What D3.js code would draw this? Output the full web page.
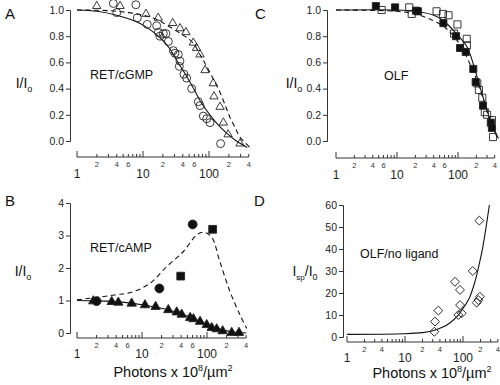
<!DOCTYPE html>
<html>
<head>
<meta charset="utf-8">
<script src="https://cdn.jsdelivr.net/npm/d3@7"></script>
<style>
  body { margin: 0; background: #fff; }
  svg { font-family: "Liberation Sans", Arial, sans-serif; }
  .tick text { fill: #222; }
</style>
</head>
<body>
<svg id="chart" width="500" height="385"></svg>
<script>
// ---- data: [photons x10^8/um^2, value] ----
// A: RET/cGMP
let aCircles = [[3.55,1.05],[4.0,0.98],[7.8,1.04],[8.2,0.94],[11.6,0.89],[16.1,0.88],[17.1,0.83],[18.1,0.80],
  [20.3,0.82],[22.3,0.82],[24.2,0.76],[28.8,0.69],[30.5,0.67],[34.3,0.66],[36.3,0.61],[35.5,0.57],[41.7,0.51],
  [45.9,0.48],[54.7,0.40],[68.9,0.30],[73.1,0.27],[82,0.19],[92.3,0.17],[103.5,0.14],[150,-0.02]];
let aTriangles = [[1.99,1.03],[4.5,1.03],[11.1,0.97],[17.0,0.94],[28.2,0.90],[36.3,0.86],[44.7,0.83],[57.8,0.75],
  [64.6,0.71],[73.1,0.66],[87,0.54],[116,0.44],[119,0.34],[147,0.26],[165,0.14],[195,0.05],[295,-0.02]];
let aSolid = [[1,1.0],[2,0.99],[4,0.96],[8,0.91],[12,0.86],[18,0.79],[25,0.71],[32,0.62],[45,0.5],[57,0.41],
  [75,0.3],[103,0.2],[140,0.12],[185,0.06],[260,0.0],[380,-0.05]];
let aDashed = [[1,1.0],[3,0.995],[6,0.98],[10,0.96],[16,0.93],[25.6,0.87],[40,0.81],[57,0.75],[75,0.65],[92,0.57],
  [120,0.46],[147,0.37],[180,0.26],[208,0.18],[250,0.1],[295,0.03],[420,-0.05]];

// B: RET/cAMP
let bTriangles = [[1.78,0.98],[3.42,0.96],[4.32,0.94],[6.93,0.91],[11.1,0.86],[16.2,0.81],[25.4,0.71],[34.2,0.64],
  [40.8,0.57],[55,0.47],[61.8,0.43],[78.2,0.35],[99,0.25],[118,0.16],[141,0.12],[174,0.06],[240,0.01],[311,0.01]];
let bCircles = [[2.0,0.98],[18.5,1.37],[60.2,3.34]];
let bSquares = [[39.4,1.75],[122,3.19]];
let bSolid = [[1,1.0],[2,0.99],[5,0.95],[10,0.87],[20,0.76],[40,0.59],[70,0.4],[100,0.27],[150,0.13],[250,0.03],[400,0.0]];
let bDashed = [[1,1.02],[3.8,1.17],[7.3,1.27],[13.3,1.53],[23.9,2.04],[43,2.5],[69.6,3.02],[88,3.10],[117,2.96],
  [158,2.19],[226,1.27],[323,0.55],[408,0.14]];

// C: OLF
let cFilled = [[4.5,1.03],[9.3,1.02],[20.5,0.995],[22,0.99],[57.6,0.90],[93,0.80],[108,0.71],[134,0.68],[178,0.55],
  [195,0.45],[257,0.27],[345,0.14],[360,0.10]];
let cOpen = [[5.6,1.0],[15.9,1.02],[17.4,0.97],[44.5,0.99],[56.7,0.97],[70,0.96],[98,0.89],[86,0.82],[139,0.78],
  [140,0.73],[207,0.44],[220,0.39],[250,0.33],[275,0.22],[300,0.20],[360,0.16],[375,0.03]];
let cSolid = [[1,1.0],[10,1.0],[20,0.99],[40,0.96],[57,0.92],[90,0.83],[140,0.72],[180,0.58],[220,0.44],[280,0.28],
  [350,0.14],[460,0.02]];
let cDashed = [[1,1.0],[10,0.99],[20,0.97],[39,0.92],[60,0.87],[85,0.8],[120,0.7],[170,0.55],[220,0.42],[280,0.27],
  [350,0.13],[460,0.01]];

// D: OLF/no ligand
let dDiamonds = [[191,52.9],[147,30],[72.8,25.1],[88.8,21.4],[89,14.5],[95,10.8],[83,10],[196,18.3],[184,16.8],
  [172,15.6],[37.5,12],[32.9,7],[32,2.4]];
let dSolid = [[1,1.2],[10,1.5],[20,2],[30,2.8],[45,4.5],[60,6.5],[80,9.5],[100,13],[130,18],[160,25],[190,33],
  [220,41],[250,50],[285,60]];

// tick labels
let yTicks01 = [0, 0.2, 0.4, 0.6, 0.8, 1.0];
let yTicksB = [0, 1, 2, 3, 4];
let yTicksD = [0, 10, 20, 30, 40, 50, 60];
let majorTicks = [1, 10, 100];
let minorLabels = [2, 4, 6, 20, 40, 60, 200, 400];
let minorLabelsD = [2, 4, 20, 40, 200, 400];

let svg = d3.select('#chart');

function makePanel(cfg) {
  let g = svg.append('g');
  let x = d3.scaleLog().domain([1, 1000]).range([cfg.x0, cfg.x0 + 3 * cfg.dec]);
  let y = d3.scaleLinear().domain(cfg.yDomain).range([cfg.yBot, cfg.yTop]);

  // y axis
  let yAx = d3.axisLeft(y).tickValues(cfg.yTicks).tickSize(4).tickPadding(2)
    .tickFormat(cfg.yFormat);
  let yg = g.append('g').attr('transform', `translate(${cfg.yAxisX},0)`).call(yAx);
  yg.select('.domain').attr('stroke', '#333');
  yg.selectAll('.tick line').attr('stroke', '#333');
  yg.selectAll('.tick text').style('font-size', '10.5px');

  // x axis: detached log axis with upward ticks
  let xg = g.append('g').attr('transform', `translate(0,${cfg.xAxisY})`);
  xg.append('line').attr('x1', x(1)).attr('x2', x(cfg.xEnd)).attr('stroke', '#333');
  let minors = [];
  for (let dec of [1, 10, 100]) {
    for (let k = 2; k <= 9; k++) {
      if (k * dec <= cfg.xEnd) minors.push(k * dec);
    }
  }
  xg.selectAll('.minor').data(minors).join('line')
    .attr('x1', d => x(d)).attr('x2', d => x(d))
    .attr('y1', 0).attr('y2', -3).attr('stroke', '#333');
  xg.selectAll('.major').data(majorTicks).join('line')
    .attr('x1', d => x(d)).attr('x2', d => x(d))
    .attr('y1', 0).attr('y2', -6).attr('stroke', '#333');
  xg.selectAll('.mlab').data(cfg.minorLabels).join('text')
    .attr('x', d => x(d)).attr('y', 9.5)
    .attr('text-anchor', 'middle').style('font-size', '7.5px').attr('fill', '#333')
    .text(d => String(d)[0]);
  xg.selectAll('.Mlab').data(majorTicks).join('text')
    .attr('x', d => x(d)).attr('y', cfg.majorDy)
    .attr('text-anchor', 'middle').style('font-size', '12px').attr('fill', '#222')
    .text(d => d);

  return {g: g, x: x, y: y};
}

function drawLine(p, data, dashed) {
  p.g.append('path')
    .datum(data)
    .attr('d', d3.line().x(d => p.x(d[0])).y(d => p.y(d[1])).curve(d3.curveCatmullRom))
    .attr('fill', 'none')
    .attr('stroke', '#111')
    .attr('stroke-width', 1.1)
    .attr('stroke-dasharray', dashed ? '5,3.5' : null);
}

function drawMarks(p, data, type, size, filled, rotate) {
  p.g.selectAll(null).data(data).join('path')
    .attr('d', d3.symbol().type(type).size(size))
    .attr('transform', d => `translate(${p.x(d[0])},${p.y(d[1])})` + (rotate ? ` rotate(${rotate})` : ''))
    .attr('fill', filled ? '#111' : 'none')
    .attr('stroke', '#222')
    .attr('stroke-width', 0.9);
}

function panelLetter(t, x, y) {
  svg.append('text').attr('x', x).attr('y', y)
    .style('font-size', '15px').attr('fill', '#111').text(t);
}

function yLabel(x, y, sub1, sub2) {
  let t = svg.append('text').attr('x', x).attr('y', y)
    .attr('text-anchor', 'middle').style('font-size', '14px').attr('fill', '#111');
  t.append('tspan').text('I');
  if (sub1) t.append('tspan').attr('dy', 4).style('font-size', '8px').text(sub1);
  t.append('tspan').attr('dy', sub1 ? -4 : 0).text('/I');
  t.append('tspan').attr('dy', 4).style('font-size', '9px').text(sub2);
}

function xTitle(cx, y) {
  let t = svg.append('text').attr('x', cx).attr('y', y)
    .attr('text-anchor', 'middle').style('font-size', '14.5px').attr('fill', '#111');
  t.append('tspan').text('Photons x 10');
  t.append('tspan').attr('dy', -6).style('font-size', '9px').text('8');
  t.append('tspan').attr('dy', 6).text('/\u00b5m');
  t.append('tspan').attr('dy', -6).style('font-size', '9px').text('2');
}

function label(t, x, y) {
  svg.append('text').attr('x', x).attr('y', y)
    .style('font-size', '12.5px').attr('fill', '#111').text(t);
}

let fmt1 = d3.format('.1f');
let fmt0 = d3.format('d');

// Panel A
let pA = makePanel({x0: 77, dec: 66, yDomain: [0, 1], yTop: 10, yBot: 141, yAxisX: 70, xAxisY: 157,
  xEnd: 400, yTicks: yTicks01, yFormat: fmt1, minorLabels: minorLabels, majorDy: 21});
drawLine(pA, aSolid, false);
drawLine(pA, aDashed, true);
drawMarks(pA, aCircles, d3.symbolCircle, 50, false);
drawMarks(pA, aTriangles, d3.symbolTriangle, 30, false);

// Panel B
let pB = makePanel({x0: 77, dec: 65, yDomain: [0, 4], yTop: 203, yBot: 333, yAxisX: 70, xAxisY: 338,
  xEnd: 400, yTicks: yTicksB, yFormat: fmt0, minorLabels: minorLabels, majorDy: 20});
drawLine(pB, bSolid, false);
drawLine(pB, bDashed, true);
drawMarks(pB, bTriangles, d3.symbolTriangle, 38, true);
drawMarks(pB, bCircles, d3.symbolCircle, 62, true);
drawMarks(pB, bSquares, d3.symbolSquare, 60, true);

// Panel C
let pC = makePanel({x0: 336, dec: 61, yDomain: [0, 1], yTop: 10, yBot: 141, yAxisX: 327, xAxisY: 158,
  xEnd: 400, yTicks: yTicks01, yFormat: fmt1, minorLabels: minorLabels, majorDy: 21});
drawLine(pC, cSolid, false);
drawLine(pC, cDashed, true);
drawMarks(pC, cOpen, d3.symbolSquare, 50, false);
drawMarks(pC, cFilled, d3.symbolSquare, 50, true);

// Panel D
let pD = makePanel({x0: 347, dec: 58, yDomain: [0, 60], yTop: 205, yBot: 337, yAxisX: 343, xAxisY: 342,
  xEnd: 400, yTicks: yTicksD, yFormat: fmt0, minorLabels: minorLabelsD, majorDy: 20});
drawLine(pD, dSolid, false);
drawMarks(pD, dDiamonds, d3.symbolSquare, 40, false, 45);

// letters, labels
panelLetter('A', 5, 19);
panelLetter('B', 5, 206);
panelLetter('C', 255, 19);
panelLetter('D', 254, 206);
yLabel(24, 88, null, 'o');
yLabel(23, 276, null, 'o');
yLabel(294, 88, null, 'o');
yLabel(305, 276, 'sp', '0');
label('RET/cGMP', 90, 79);
label('RET/cAMP', 90, 252);
label('OLF', 384, 80);
label('OLF/no ligand', 360, 258);
xTitle(173, 377);
xTitle(432, 378);
</script>
</body>
</html>
